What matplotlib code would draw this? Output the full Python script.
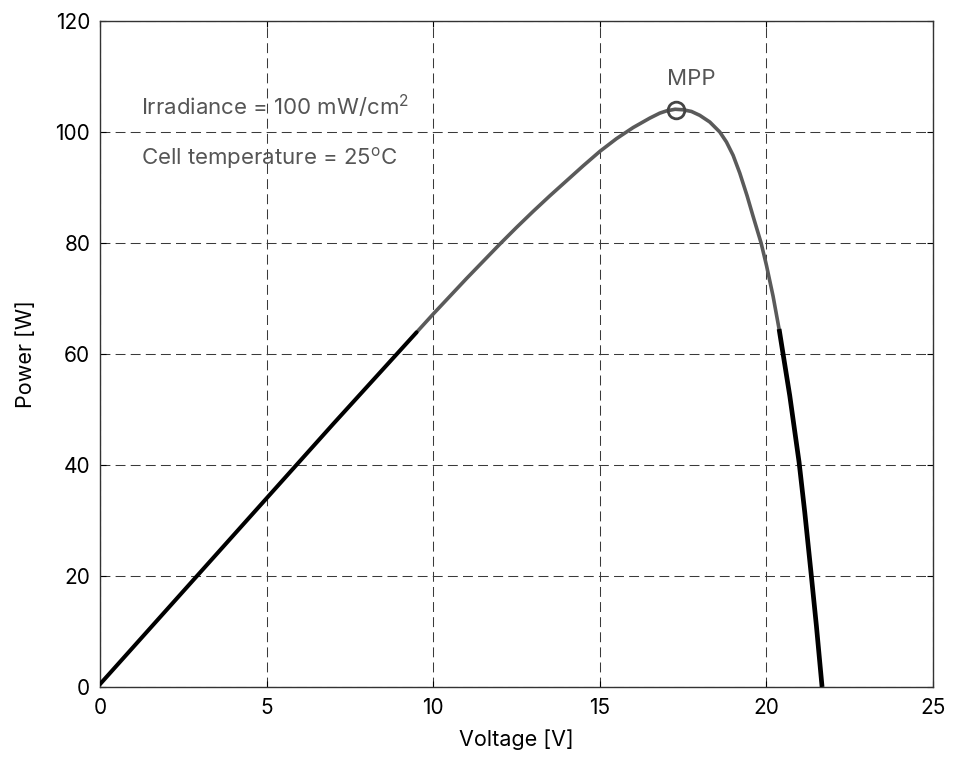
import matplotlib
matplotlib.use("Agg")
import matplotlib.pyplot as plt
import numpy as np

plt.rcParams['font.family'] = ['Inter', 'Liberation Sans', 'DejaVu Sans']
plt.rcParams['mathtext.fontset'] = 'custom'
plt.rcParams['mathtext.rm'] = 'Inter'
plt.rcParams['mathtext.it'] = 'Inter'
plt.rcParams['mathtext.bf'] = 'Inter'

# P-V curve values
voltage = [0, 1, 2, 3, 4, 5, 6, 7, 8, 9, 9.5, 10, 10.5, 11, 11.5, 12, 12.5, 13, 13.5, 14, 14.5,
           15, 15.5, 16, 16.5, 16.8, 17.0, 17.26, 17.5, 17.75, 18.0, 18.3, 18.6, 18.8, 19.0,
           19.2, 19.42, 19.6, 19.84, 20.0, 20.2, 20.38, 20.5, 20.7, 20.98, 21.15, 21.34, 21.5, 21.67]
power = [0.5, 7.2, 13.9, 20.6, 27.3, 34.0, 40.7, 47.4, 54.0, 60.6, 63.9, 67.2, 70.4, 73.6, 76.7, 79.8, 82.8, 85.7, 88.5, 91.2, 93.9,
         96.5, 98.8, 100.8, 102.5, 103.4, 103.8, 104.1, 104.0, 103.7, 103.0, 101.8, 100.0, 98.2, 95.8,
         92.6, 88.5, 84.8, 80.0, 76.0, 70.4, 64.5, 60.0, 52.5, 40.5, 31.5, 20.5, 11.0, 0.0]

low_split = 9.5    # end of black section at low voltage
high_split = 20.38  # start of black section near Voc
mpp_v, mpp_p = 17.3, 104.0

xticks = [0, 5, 10, 15, 20, 25]
yticks = [0, 20, 40, 60, 80, 100, 120]

v = np.array(voltage)
p = np.array(power)

fig = plt.figure(figsize=(9.55, 7.58), dpi=100)
ax = fig.add_axes([0.1047, 0.0937, 0.8723, 0.8786])

gray = '#5a5a5a'
m1 = v <= low_split
m2 = (v >= low_split) & (v <= high_split)
m3 = v >= high_split
ax.plot(v[m2], p[m2], color=gray, lw=2.6, solid_capstyle='round', solid_joinstyle='round', zorder=3)
ax.plot(v[m1], p[m1], color='black', lw=2.9, solid_capstyle='round', zorder=4)
ax.plot(v[m3], p[m3], color='black', lw=3.4, solid_capstyle='butt', solid_joinstyle='round', zorder=4)

ax.plot([mpp_v], [mpp_p], marker='o', markersize=12, markerfacecolor='none',
        markeredgecolor='#444444', markeredgewidth=2.0, zorder=5)

ax.text(17.75, 109.6, 'MPP', color='#555555', fontsize=16, ha='center', va='center')
ax.text(1.23, 104.6, 'Irradiance = 100 mW/cm$^2$', color='#555555', fontsize=16, ha='left', va='center')
ax.text(1.23, 95.4, 'Cell temperature = 25$^\\mathrm{o}$C', color='#555555', fontsize=16, ha='left', va='center')

ax.set_xlim(0, 25)
ax.set_ylim(0, 120)
ax.set_xticks(xticks)
ax.set_yticks(yticks)
ax.tick_params(axis='x', direction='in', length=4, labelsize=15, top=True, pad=8)
ax.tick_params(axis='y', direction='in', length=4, labelsize=15, right=True, pad=7)
ax.grid(True, color='#3a3a3a', linestyle=(0, (9.5, 5)), linewidth=0.75)
for s in ax.spines.values():
    s.set_linewidth(1.0)
    s.set_color('#333333')

ax.set_xlabel('Voltage [V]', fontsize=15.5, labelpad=8)
ax.set_ylabel('Power [W]', fontsize=15.5, labelpad=14)

fig.savefig('out.png', dpi=100)
